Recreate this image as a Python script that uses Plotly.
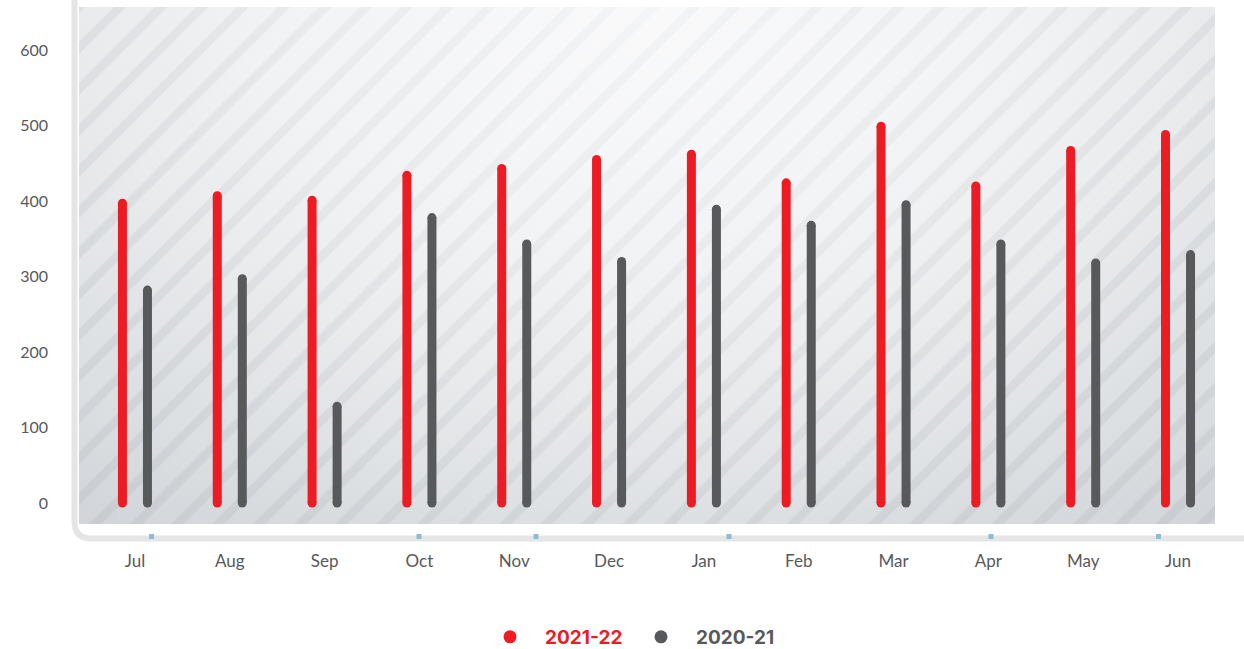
import plotly.graph_objects as go

# ---------------- data ----------------
months = ["Jul", "Aug", "Sep", "Oct", "Nov", "Dec", "Jan", "Feb", "Mar", "Apr", "May", "Jun"]
sales_2021_22 = [397, 407, 401, 434, 443, 455, 462, 424, 499, 420, 467, 488]
sales_2020_21 = [282, 297, 128, 378, 343, 320, 389, 368, 395, 343, 318, 329]
y_tick_values = [0, 100, 200, 300, 400, 500, 600]
series_names = ["2021-22", "2020-21"]

# ---------------- style ----------------
RED = "#ed1c24"
GREY = "#58595b"
TEXT = "#58595b"
W, H = 1244, 649
L, R, T, B = 79, 29, 7, 125
PW, PH = W - L - R, H - T - B


def px(x):
    return (x - L) / PW


def py(y):
    return (T + PH - y) / PH


def stems(values, offset):
    xs, ys = [], []
    for i, v in enumerate(values):
        xs += [i + offset, i + offset, None]
        ys += [0, v, None]
    return xs, ys


def ellipse_box(cx, cy, rx, ry):
    return ([cx - rx, cx + rx, cx + rx, cx - rx, cx - rx],
            [cy - ry, cy - ry, cy + ry, cy + ry, cy - ry])


fig = go.Figure()

# background radial gradient (axes x/y in pixel-like units)
gx, gy = ellipse_box(647, 10, 1000, 620)
fig.add_trace(go.Scatter(
    x=gx, y=gy, mode="lines", line=dict(width=0), fill="toself",
    fillgradient=dict(type="radial", colorscale=[
        [0.0, "#f7f8f9"], [0.4, "#eceef0"], [0.57, "#e6e8ea"],
        [0.83, "#dcdfe2"], [1.0, "#d1d4d8"]]),
    hoverinfo="skip", showlegend=False, xaxis="x", yaxis="y"))

# diagonal stripes
fig.add_trace(go.Bar(
    x=[0.5], y=[1], base=[0], width=[1],
    marker=dict(color="rgba(0,0,0,0)", line=dict(width=0),
                pattern=dict(shape="/", fgcolor="#9ea3a9", bgcolor="rgba(0,0,0,0)",
                             fgopacity=0.19, size=29, solidity=0.3)),
    hoverinfo="skip", showlegend=False, xaxis="x2", yaxis="y2"))

# soft glow over the stripes (top centre)
hx, hy = ellipse_box(0.5, 1.0, 0.6, 1.05)
fig.add_trace(go.Scatter(
    x=hx, y=hy, mode="lines", line=dict(width=0), fill="toself",
    fillgradient=dict(type="radial", colorscale=[
        [0.0, "rgba(250,250,251,0.65)"], [0.5, "rgba(250,250,251,0.35)"],
        [1.0, "rgba(250,250,251,0)"]]),
    hoverinfo="skip", showlegend=False, xaxis="x2", yaxis="y2"))

# data stems
off = 0.132
for vals, o, col in [(sales_2021_22, -off, RED), (sales_2020_21, off, GREY)]:
    xs, ys = stems(vals, o)
    fig.add_trace(go.Scatter(
        x=xs, y=ys, mode="lines+markers",
        line=dict(color=col, width=9),
        marker=dict(color=col, size=9, line=dict(width=0)),
        showlegend=False, xaxis="x3", yaxis="y3", hoverinfo="skip"))

# legend entries
for name, col in zip(series_names, [RED, GREY]):
    fig.add_trace(go.Scatter(
        x=[None], y=[None], mode="markers",
        marker=dict(color=col, size=13),
        name=f"<b><span style='color:{col}'>{name}</span></b>",
        xaxis="x3", yaxis="y3"))

# frame border and small blue markers
shapes = []
path = (f"M {px(74.5)},{py(0)} L {px(74.5)},{py(521.5)} "
        f"Q {px(74.5)},{py(538.5)} {px(91.5)},{py(538.5)} L {px(1244)},{py(538.5)}")
shapes.append(dict(type="path", path=path, xref="paper", yref="paper",
                   line=dict(color="#e5e5e5", width=6), layer="above"))
for mx in [151.5, 419, 536, 729, 991, 1158.5]:
    shapes.append(dict(type="rect", xref="paper", yref="paper",
                       x0=px(mx - 2.5), x1=px(mx + 2.5), y0=py(534), y1=py(539),
                       fillcolor="#8dbdd0", line=dict(width=0), layer="above"))

hidden = dict(visible=False, showgrid=False, zeroline=False, fixedrange=True)
fig.update_layout(
    width=W, height=H,
    margin=dict(l=L, r=R, t=T, b=B, pad=0, autoexpand=False),
    paper_bgcolor="white", plot_bgcolor="#e4e6e9",
    xaxis=dict(range=[L, W - R], **hidden),
    yaxis=dict(range=[T + PH, T], **hidden),
    xaxis2=dict(range=[0, 1], overlaying="x", **hidden),
    yaxis2=dict(range=[0, 1], overlaying="y", **hidden),
    xaxis3=dict(range=[-0.59, 11.39], overlaying="x", tickmode="array",
                tickvals=list(range(len(months))), ticktext=months,
                showgrid=False, zeroline=False, showline=False, ticks="",
                ticklabelstandoff=25,
                tickfont=dict(family="Lato", size=17, color=TEXT)),
    yaxis3=dict(range=[-27.8, 656.9], overlaying="y", tickmode="array",
                tickvals=y_tick_values, showgrid=False, zeroline=False,
                showline=False, ticks="", ticklabelstandoff=30,
                tickfont=dict(family="Lato", size=16, color=TEXT)),
    showlegend=True,
    legend=dict(orientation="h", x=px(475), xanchor="left", y=py(637), yanchor="middle",
                itemwidth=60, entrywidth=76, bgcolor="rgba(0,0,0,0)",
                font=dict(family="Inter", size=19, color=TEXT)),
    shapes=shapes,
)

fig.write_html("out.html", config={"displayModeBar": False},
               post_script="document.body.style.margin='0px';")
